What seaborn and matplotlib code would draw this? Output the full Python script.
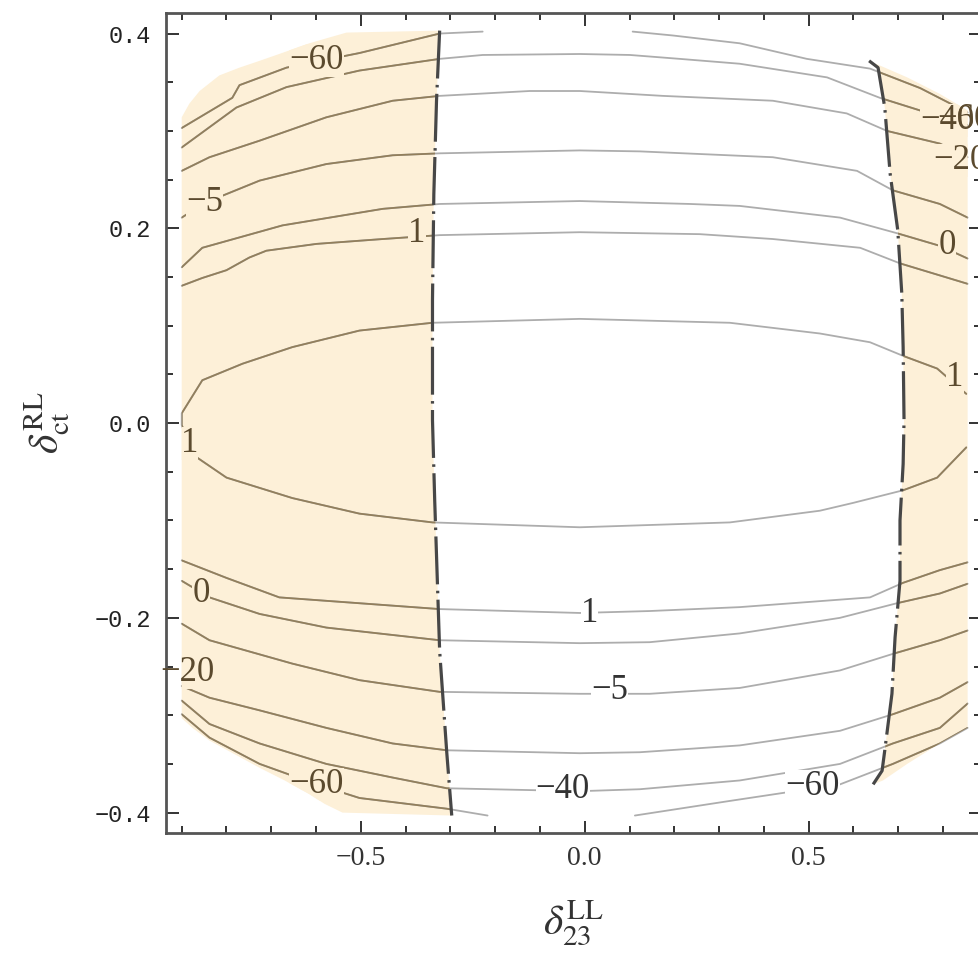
import numpy as np
import matplotlib
matplotlib.use("Agg")
import matplotlib.pyplot as plt
from matplotlib.path import Path
from matplotlib.ticker import MultipleLocator
import seaborn as sns


# 그림에서 읽은 등고선 (x: delta_23^LL, y: delta_ct^RL)
# 위쪽 가지
up_m60a_x = [-0.90, -0.787, -0.771, -0.666, -0.503, -0.324, -0.228]
up_m60a_y = [0.303, 0.334, 0.347, 0.365, 0.380, 0.400, 0.402]
up_m60b_x = [0.107, 0.197, 0.346, 0.496, 0.637, 0.749, 0.855]
up_m60b_y = [0.402, 0.398, 0.390, 0.374, 0.364, 0.344, 0.319]
up_m40_x = [-0.90, -0.778, -0.666, -0.503, -0.324, -0.228, -0.011, 0.101, 0.212, 0.346, 0.541, 0.659, 0.749, 0.855]
up_m40_y = [0.283, 0.324, 0.345, 0.362, 0.374, 0.378, 0.379, 0.378, 0.374, 0.369, 0.355, 0.334, 0.321, 0.306]
up_m20_x = [-0.90, -0.838, -0.726, -0.577, -0.429, -0.324, -0.123, -0.011, 0.174, 0.420, 0.585, 0.675, 0.793, 0.855]
up_m20_y = [0.259, 0.273, 0.290, 0.314, 0.331, 0.336, 0.341, 0.341, 0.336, 0.331, 0.318, 0.300, 0.287, 0.273]
up_m5_x = [-0.90, -0.849, -0.726, -0.577, -0.429, -0.324, -0.011, 0.123, 0.420, 0.608, 0.688, 0.793, 0.855]
up_m5_y = [0.211, 0.226, 0.249, 0.266, 0.275, 0.277, 0.280, 0.279, 0.273, 0.259, 0.239, 0.225, 0.211]
up_0_x = [-0.90, -0.854, -0.675, -0.451, -0.324, -0.011, 0.235, 0.346, 0.570, 0.697, 0.793, 0.855]
up_0_y = [0.160, 0.180, 0.203, 0.220, 0.225, 0.228, 0.225, 0.223, 0.211, 0.195, 0.182, 0.169]
up_1_x = [-0.90, -0.854, -0.800, -0.749, -0.711, -0.599, -0.451, -0.324, -0.011, 0.257, 0.420, 0.615, 0.704, 0.855]
up_1_y = [0.141, 0.149, 0.157, 0.170, 0.177, 0.184, 0.189, 0.193, 0.196, 0.194, 0.189, 0.180, 0.164, 0.143]

# 가운데 타원 (값 1)
ell_x = [0.852, 0.787, 0.711, 0.637, 0.525, 0.324, -0.011, -0.340, -0.503, -0.653, -0.764, -0.854, -0.90,
         -0.90, -0.883, -0.867, -0.800, -0.653, -0.503, -0.340, -0.011, 0.324, 0.525, 0.599, 0.711, 0.787, 0.852]
ell_y = [0.030, 0.056, 0.069, 0.083, 0.092, 0.103, 0.107, 0.103, 0.095, 0.078, 0.061, 0.044, 0.010,
         -0.002, -0.021, -0.035, -0.056, -0.077, -0.093, -0.102, -0.107, -0.102, -0.090, -0.082, -0.069, -0.056, -0.025]

# 아래쪽 가지
lo_1_x = [-0.90, -0.800, -0.682, -0.503, -0.324, -0.011, 0.145, 0.346, 0.637, 0.711, 0.793, 0.855]
lo_1_y = [-0.141, -0.159, -0.179, -0.185, -0.191, -0.195, -0.193, -0.189, -0.179, -0.164, -0.151, -0.143]
lo_0_x = [-0.90, -0.838, -0.726, -0.577, -0.324, -0.011, 0.145, 0.346, 0.570, 0.697, 0.793, 0.855]
lo_0_y = [-0.162, -0.179, -0.196, -0.210, -0.223, -0.226, -0.225, -0.216, -0.200, -0.185, -0.175, -0.165]
lo_m5_x = [-0.90, -0.838, -0.653, -0.503, -0.324, -0.011, 0.145, 0.346, 0.570, 0.688, 0.793, 0.855]
lo_m5_y = [-0.206, -0.223, -0.247, -0.264, -0.276, -0.278, -0.278, -0.272, -0.254, -0.237, -0.223, -0.213]
lo_m20_x = [-0.90, -0.838, -0.726, -0.577, -0.429, -0.308, -0.011, 0.123, 0.346, 0.570, 0.688, 0.793, 0.855]
lo_m20_y = [-0.270, -0.282, -0.295, -0.313, -0.329, -0.336, -0.339, -0.338, -0.331, -0.316, -0.299, -0.282, -0.266]
lo_m40_x = [-0.90, -0.838, -0.726, -0.577, -0.429, -0.308, -0.011, 0.123, 0.346, 0.570, 0.688, 0.793, 0.855]
lo_m40_y = [-0.285, -0.309, -0.329, -0.350, -0.364, -0.375, -0.378, -0.376, -0.367, -0.350, -0.329, -0.313, -0.288]
lo_m60a_x = [-0.90, -0.838, -0.726, -0.599, -0.503, -0.308, -0.217]
lo_m60a_y = [-0.299, -0.323, -0.350, -0.371, -0.385, -0.396, -0.403]
lo_m60b_x = [0.112, 0.324, 0.570, 0.688, 0.793, 0.855]
lo_m60b_y = [-0.403, -0.388, -0.371, -0.350, -0.329, -0.313]

# 점-쇄선 경계
bound_left_x = [-0.324, -0.331, -0.337, -0.340, -0.340, -0.335, -0.324, -0.308, -0.297]
bound_left_y = [0.403, 0.331, 0.235, 0.126, 0.003, -0.080, -0.234, -0.339, -0.403]
bound_right_x = [0.635, 0.655, 0.670, 0.682, 0.699, 0.708, 0.711, 0.713, 0.711, 0.704, 0.704, 0.693, 0.686, 0.670, 0.664, 0.644]
bound_right_y = [0.372, 0.365, 0.324, 0.256, 0.198, 0.133, 0.078, 0.003, -0.042, -0.100, -0.162, -0.220, -0.278, -0.336, -0.357, -0.371]

# 음영 영역의 나머지 테두리
shade_left_top_x = [-0.900, -0.900, -0.883, -0.860, -0.816, -0.771, -0.726, -0.670, -0.615, -0.570, -0.532]
shade_left_top_y = [-0.303, 0.314, 0.328, 0.341, 0.357, 0.365, 0.372, 0.381, 0.390, 0.396, 0.401]
shade_left_bot_x = [-0.541, -0.581, -0.615, -0.670, -0.726, -0.782, -0.838, -0.876]
shade_left_bot_y = [-0.400, -0.391, -0.381, -0.367, -0.354, -0.340, -0.326, -0.313]
shade_right_edge_x = [0.666, 0.720, 0.793, 0.855, 0.855, 0.793, 0.720]
shade_right_edge_y = [-0.367, -0.350, -0.329, -0.313, 0.321, 0.338, 0.355]

# 등고선 라벨 (오른쪽 위 -40 / -60 은 원본처럼 겹침)
label_text = ["−60", "−5", "1", "−40", "−60", "−20", "0", "1", "1", "0", "−20", "−60", "1", "−5", "−40", "−60"]
label_x = [-0.599, -0.849, -0.375, 0.809, 0.847, 0.838, 0.809, 0.827, -0.883, -0.857, -0.887, -0.599, 0.011, 0.056, -0.049, 0.509]
label_y = [0.372, 0.226, 0.195, 0.311, 0.312, 0.270, 0.182, 0.047, -0.021, -0.175, -0.256, -0.371, -0.196, -0.275, -0.376, -0.373]
label_box = [True, True, True, True, False, True, True, True, True, True, True, True, True, True, True, True]

# 축 눈금
xtick_vals = [-0.5, 0.0, 0.5]
xtick_labels = ["−0.5", "0.0", "0.5"]
ytick_vals = [-0.4, -0.2, 0.0, 0.2, 0.4]
ytick_labels = ["−0.4", "−0.2", "0.0", "0.2", "0.4"]

SHADE = "#fdf0d8"
LINE = "#adadad"
LINE_IN = "#927f5c"

sns.set_style("ticks")
plt.rcParams["font.family"] = ["Liberation Serif", "DejaVu Serif"]
plt.rcParams["mathtext.fontset"] = "stix"

fig = plt.figure(figsize=(9.79, 9.56), dpi=100)
ax = fig.add_axes([0.1696, 0.1286, 0.8325, 0.8577])

# 음영 영역
left_poly_x = shade_left_top_x + bound_left_x + shade_left_bot_x
left_poly_y = shade_left_top_y + bound_left_y + shade_left_bot_y
right_poly_x = bound_right_x + shade_right_edge_x
right_poly_y = bound_right_y + shade_right_edge_y
patches = []
paths = []
for px, py in [(left_poly_x, left_poly_y), (right_poly_x, right_poly_y)]:
    patches.append(ax.fill(px, py, color=SHADE, lw=0, zorder=1)[0])
    paths.append(Path(np.column_stack([px, py])))

# 등고선
contours = [
    (up_m60a_x, up_m60a_y), (up_m60b_x, up_m60b_y), (up_m40_x, up_m40_y), (up_m20_x, up_m20_y),
    (up_m5_x, up_m5_y), (up_0_x, up_0_y), (up_1_x, up_1_y), (ell_x, ell_y),
    (lo_1_x, lo_1_y), (lo_0_x, lo_0_y), (lo_m5_x, lo_m5_y), (lo_m20_x, lo_m20_y),
    (lo_m40_x, lo_m40_y), (lo_m60a_x, lo_m60a_y), (lo_m60b_x, lo_m60b_y),
]
for cx, cy in contours:
    sns.lineplot(x=cx, y=cy, sort=False, estimator=None, color=LINE, lw=1.3, ax=ax, zorder=2)
    for patch in patches:
        sns.lineplot(x=cx, y=cy, sort=False, estimator=None, color=LINE_IN, lw=1.3, ax=ax, zorder=2.5)
        ax.lines[-1].set_clip_path(patch)

# 경계선
for bx, by in [(bound_left_x, bound_left_y), (bound_right_x, bound_right_y)]:
    sns.lineplot(x=bx, y=by, sort=False, estimator=None, color="#474747", lw=2.3, ax=ax, zorder=3)
    ax.lines[-1].set_dashes([15, 2.0, 0.8, 2.0])

# 라벨
for t, lx, ly, boxed in zip(label_text, label_x, label_y, label_box):
    hit = [i for i, p in enumerate(paths) if p.contains_point((lx, ly))]
    inside = len(hit) > 0
    txt = ax.text(lx, ly, t, ha="center", va="center", fontsize=25,
                  color="#5b4a2e" if inside else "#333333", zorder=4, clip_on=False)
    if boxed:
        txt.set_bbox(dict(boxstyle="square,pad=0.0", fc=SHADE if inside else "white", ec="none"))
        if inside:
            bp = txt.get_bbox_patch()
            bp.set_clip_on(True)
            bp.set_clip_path(patches[hit[0]])

ax.set_xlim(-0.935, 0.885)
ax.set_ylim(-0.421, 0.421)
ax.set_xticks(xtick_vals, labels=xtick_labels, fontsize=20, fontfamily="Liberation Serif")
ax.set_yticks(ytick_vals, labels=ytick_labels, fontsize=17, fontfamily="Liberation Mono")
ax.xaxis.set_minor_locator(MultipleLocator(0.1))
ax.yaxis.set_minor_locator(MultipleLocator(0.05))
ax.tick_params(which="both", direction="in", top=True, right=True, color="#333333", width=1.4)
ax.tick_params(which="major", length=9)
ax.tick_params(which="minor", length=5)
ax.tick_params(axis="x", pad=9, labelcolor="#333333")
ax.tick_params(axis="y", pad=11, labelcolor="#222222")
for s in ax.spines.values():
    s.set_color("#555555")
    s.set_linewidth(2.0)

ax.set_xlabel(r"$\delta_{23}^{\mathrm{LL}}$", fontsize=30, labelpad=20, color="#333333")
ax.set_ylabel(r"$\delta_{\mathrm{ct}}^{\mathrm{RL}}$", fontsize=30, labelpad=16, color="#333333")

fig.savefig("out.png", dpi=100)
plt.close(fig)
